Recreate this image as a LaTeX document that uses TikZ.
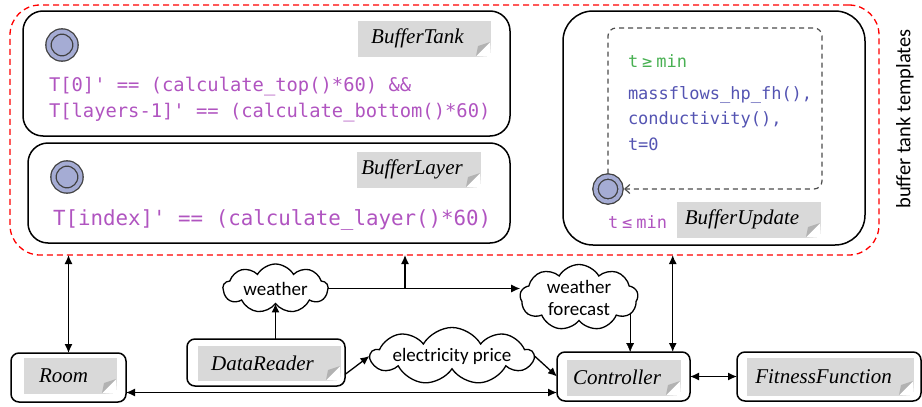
\documentclass[tikz,border=0pt]{standalone}
\usepackage{fontspec}
\setmainfont{Liberation Serif}
\setsansfont{Carlito}
\setmonofont{DejaVu Sans Mono}
\usetikzlibrary{calc,shapes.symbols,arrows.meta,backgrounds}

\definecolor{notegray}{RGB}{217,217,217}
\definecolor{foldgray}{RGB}{178,178,178}
\definecolor{locfill}{RGB}{165,172,212}
\definecolor{guardgreen}{RGB}{72,176,82}
\definecolor{updblue}{RGB}{84,84,178}
\definecolor{invpurple}{RGB}{176,84,192}

\begin{document}
\begin{tikzpicture}[x=1pt,y=-1pt]
	\tikzstyle{every node}=[outer sep=0pt]
	\tikzstyle{tmplbox}=[draw,line width=1.5pt,rounded corners=8pt,inner sep=0pt]
	\tikzstyle{bigbox}=[tmplbox,rounded corners=20pt]
	\tikzstyle{note}=[fill=notegray,draw=black!15,inner sep=0pt,font=\itshape\fontsize{21}{24}\selectfont,execute at end node={\hspace*{13pt}}]
	\tikzstyle{loc}=[circle,draw=black!75,fill=locfill,double=locfill,double distance=4pt,line width=1.3pt,minimum size=27pt,inner sep=0pt]
	\tikzstyle{data}=[cloud,cloud puffs=9,cloud puff arc=120,cloud ignores aspect,draw,fill=white,line width=1.3pt,inner sep=0pt,font=\sffamily\fontsize{19}{22}\selectfont,align=center]
	\tikzstyle{code}=[inner sep=0pt,align=left,font=\ttfamily\fontsize{18.8}{26}\selectfont]
	\tikzstyle{link}=[line width=1.3pt,>={Latex[length=9pt,width=8pt]}]
	\tikzstyle{loopline}=[draw=black!70,line width=1.2pt,dash pattern=on 5pt off 4pt,rounded corners=8pt,->,>={Straight Barb[length=5pt,width=9pt]}]

	\useasboundingbox (0,0) rectangle (922,407);

	\node[draw=red,line width=1.3pt,dash pattern=on 6pt off 4pt,rounded corners=30pt,minimum width=869pt,minimum height=250pt] (tmpls) at (444.5,130) {};
	\node[rotate=90,font=\sffamily\fontsize{20.5}{24}\selectfont] (tmplslabel) at (905,119) {buffer tank templates};

	% templates of the tank
	\node[bigbox,minimum width=487pt,minimum height=125pt] (tank) at (266.5,73.5) {};
	\node[loc] (tankinit) at (62,45) {};
	\node[note,minimum width=132pt,minimum height=35pt] (tanknote) at (424,38.5) {BufferTank};
	\node[code,text=invpurple,anchor=north west] (tankinv) at (49,77) {T[0]' == (calculate\_top()*60) \&\&\\T[layers-1]' == (calculate\_bottom()*60)};

	\node[bigbox,minimum width=482pt,minimum height=100pt] (layer) at (269,193) {};
	\node[loc] (layerinit) at (67,177) {};
	\node[note,minimum width=123pt,minimum height=35pt] (layernote) at (418.5,169.5) {BufferLayer};
	\node[code,text=invpurple,font=\ttfamily\fontsize{20.8}{26}\selectfont,anchor=base west] (layerinv) at (53,225) {T[index]' == (calculate\_layer()*60)};

	\node[bigbox,rounded corners=30pt,minimum width=302pt,minimum height=234pt] (update) at (714,128) {};
	\node[loc,minimum size=25pt] (updinit) at (608,189) {};
	\coordinate (loopturn) at (822,28);
	\draw[loopline,shorten <=3pt,shorten >=3.5pt] (updinit.north) |- (loopturn) |- (updinit.east);
	\node[code,text=guardgreen,font=\ttfamily\fontsize{17}{25.5}\selectfont,anchor=base west] (guard) at (628,67) {t\hspace{4pt}≥\hspace{4pt}min};
	\node[code,text=updblue,font=\ttfamily\fontsize{17}{25.5}\selectfont,anchor=north west] (assign) at (628,86) {massflows\_hp\_fh(),\\conductivity(),\\t=0};
	\node[code,text=invpurple,font=\ttfamily\fontsize{17}{25.5}\selectfont,anchor=base west] (updinv) at (608,228) {t\hspace{4pt}≤\hspace{4pt}min};
	\node[note,minimum width=143pt,minimum height=35pt] (updnote) at (748.5,219.5) {BufferUpdate};

	% other templates
	\node[tmplbox,minimum width=115pt,minimum height=49pt] (room) at (68.5,377.5) {};
	\node[note,minimum width=92pt,minimum height=35pt] (roomnote) at (70,375.5) {Room};
	\node[tmplbox,minimum width=158pt,minimum height=47pt] (reader) at (266,362.5) {};
	\node[note,minimum width=142pt,minimum height=34pt] (readernote) at (269,363) {DataReader};
	\node[tmplbox,minimum width=133pt,minimum height=49pt] (ctrl) at (623.5,376.5) {};
	\node[note,minimum width=113pt,minimum height=35pt] (ctrlnote) at (623.5,377.5) {Controller};
	\node[tmplbox,minimum width=184pt,minimum height=49pt] (fit) at (829,376.5) {};
	\node[note,minimum width=166pt,minimum height=37pt] (fitnote) at (830,376.5) {FitnessFunction};

	\foreach \n in {tanknote,layernote,updnote,roomnote,readernote,ctrlnote,fitnote}{
		\fill[white] ([xshift=-14pt]\n.south east) -- ([xshift=1pt,yshift=-1pt]\n.south east) -- ([yshift=14pt]\n.south east) -- cycle;
		\fill[foldgray] ([xshift=-14pt]\n.south east) -- ([xshift=-12pt,yshift=10pt]\n.south east) -- ([yshift=14pt]\n.south east) -- cycle;
	}

	% shared data
	\node[data,minimum width=105pt,minimum height=49pt] (weather) at (275.5,288.5) {weather};
	\node[data,minimum width=118pt,minimum height=66pt] (forecast) at (579,297.5) {weather\\forecast};
	\node[data,minimum width=148pt,minimum height=57pt] (price) at (452,356) {electricity price};

	\coordinate (tap) at ($(weather.east)!0.4!(forecast.west |- weather.east)$);
	\coordinate (ctrlin) at ($(ctrl.north west)!0.55!(ctrl.north east)$);
	\coordinate (ctrlup) at ($(ctrl.north west)!0.87!(ctrl.north east)$);

	\begin{scope}[on background layer,link]
		\draw[->] (ctrlin |- forecast.center) -- (ctrlin);
	\end{scope}
	\begin{scope}[link]
		\draw[<->] (room.north) -- (room.north |- tmpls.south);
		\draw[<->] (ctrlup) -- (ctrlup |- tmpls.south);
		\draw[->] (weather.east) -- (forecast.west |- weather.east);
		\draw[->] (tap) -- (tap |- tmpls.south);
		\draw[->] (weather.south |- reader.north) -- (weather.south);
		\draw[->] ([yshift=-12pt]reader.east) -- (price.west);
		\draw[->] (price.east) -- (ctrl.west);
		\draw[<->] ([yshift=-15pt]room.east) -- ([yshift=-15pt]room.east -| ctrl.west);
		\draw[<->] (ctrl.east) -- (fit.west);
	\end{scope}
\end{tikzpicture}
\end{document}
